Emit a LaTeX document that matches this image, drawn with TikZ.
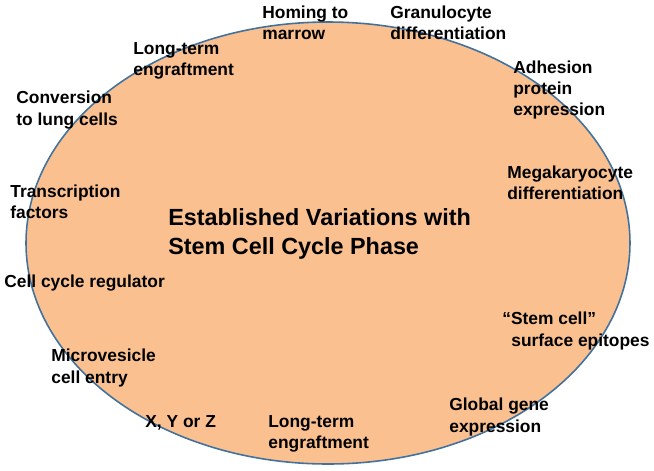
\documentclass[tikz,border=0pt]{standalone}
\usepackage{fontspec}
\setmainfont{Liberation Sans}
\usepackage{tikz}
\usetikzlibrary{shapes}

\definecolor{cellfill}{HTML}{FAC090}
\definecolor{cellline}{HTML}{41719C}

\begin{document}
\begin{tikzpicture}[x=0.02cm, y=-0.02cm,
  phase/.style={anchor=west, align=left, inner sep=0pt,
    font=\fontsize{9.9}{12}\selectfont\bfseries},
  heading/.style={anchor=west, align=left, inner sep=0pt,
    font=\fontsize{13.3}{17}\selectfont\bfseries}]

  \useasboundingbox (0,0) rectangle (654,471);

  % the cell
  \draw[cellline, fill=cellfill, line width=0.9pt] (328,243) ellipse [x radius=302, y radius=221];

  % centre text
  \node[heading] (title) at (168,234) {Established Variations with\\Stem Cell Cycle Phase};

  % properties round the cell
  \node[phase] (homing) at (262,23) {Homing to\\marrow};
  \node[phase] (granulo) at (390,23) {Granulocyte\\differentiation};
  \node[phase] (ltengtop) at (133,61) {Long-term\\engraftment};
  \node[phase] (lung) at (16,110) {Conversion\\to lung cells};
  \node[phase] (transc) at (10,202) {Transcription\\factors};
  \node[phase] (adhesion) at (513,90) {Adhesion\\protein\\expression};
  \node[phase] (megak) at (507,183) {Megakaryocyte\\differentiation};
  \node[phase] (cyclereg) at (4,283) {Cell cycle regulator};
  \node[phase] (microves) at (51,368) {Microvesicle\\cell entry};
  \node[phase] (xyz) at (145,423) {X, Y or Z};
  \node[phase] (ltengbot) at (268,434) {Long-term\\engraftment};
  \node[phase] (globgene) at (449,417) {Global gene\\expression};
  \node[phase] (epitopes) at (502,331) {``Stem cell''\\\hspace*{1.8mm}surface epitopes};

\end{tikzpicture}
\end{document}
